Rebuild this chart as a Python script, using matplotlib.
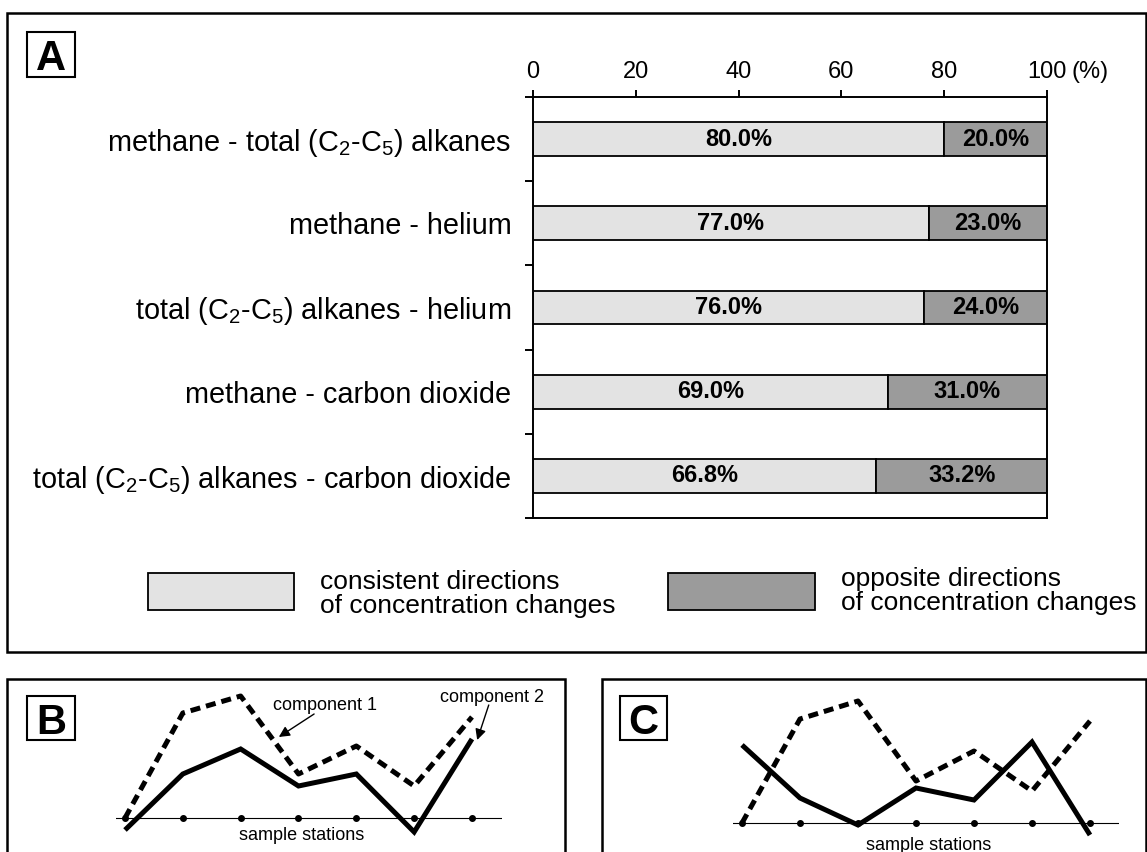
import numpy as np
import matplotlib
matplotlib.use('Agg')
import matplotlib.pyplot as plt
from matplotlib.patches import Rectangle

# ---------------- data ----------------
categories = [r'methane - total (C$_2$-C$_5$) alkanes',
              'methane - helium',
              r'total (C$_2$-C$_5$) alkanes - helium',
              'methane - carbon dioxide',
              r'total (C$_2$-C$_5$) alkanes - carbon dioxide']
consistent = [80.0, 77.0, 76.0, 69.0, 66.8]
opposite = [20.0, 23.0, 24.0, 31.0, 33.2]
xtick_values = [0, 20, 40, 60, 80, 100]
legend_labels = ['consistent directions\nof concentration changes',
                 'opposite directions\nof concentration changes']

stations = [0, 1, 2, 3, 4, 5, 6]
b_component1 = [0, 105, 122, 44, 72, 32, 101]
b_component2 = [-12, 44, 69, 32, 44, -14, 79]
c_component1 = [0, 104, 122, 42, 72, 32, 102]
c_component2 = [78, 25, -2, 35, 23, 81, -12]

# ---------------- style ----------------
plt.rcParams['font.family'] = ['Liberation Sans', 'DejaVu Sans']
plt.rcParams['mathtext.fontset'] = 'custom'
plt.rcParams['mathtext.rm'] = 'Liberation Sans'
plt.rcParams['mathtext.it'] = 'Liberation Sans:italic'
plt.rcParams['mathtext.bf'] = 'Liberation Sans:bold'
plt.rcParams['mathtext.default'] = 'regular'

LIGHT = '#e3e3e3'
DARK = '#9b9b9b'
W, H = 1147, 852
fig = plt.figure(figsize=(W / 100, H / 100), dpi=100)
fig.patch.set_facecolor('white')


def px_axes(x0, y0, x1, y1):
    return fig.add_axes([x0 / W, 1 - y1 / H, (x1 - x0) / W, (y1 - y0) / H])


def frame(x0, y0, x1, y1, lw=1.8, fc='none'):
    r = Rectangle((x0 / W, 1 - y1 / H), (x1 - x0) / W, (y1 - y0) / H,
                  transform=fig.transFigure, fill=(fc != 'none'),
                  facecolor=fc, edgecolor='k', lw=lw, clip_on=False)
    fig.add_artist(r)
    return r


def panel_label(x0, y0, x1, y1, letter):
    frame(x0, y0, x1, y1, lw=1.5)
    fig.text((x0 + x1) / 2 / W, 1 - (y0 + y1) / 2 / H, letter,
             ha='center', va='center_baseline', fontsize=30,
             fontweight='bold')


# ---------------- panel A ----------------
frame(7, 13, 1146, 652)
panel_label(27, 32, 75, 77, 'A')

ax = px_axes(533, 97, 1047, 518)
ypos = np.arange(len(categories))
ax.barh(ypos, consistent, height=0.4, color=LIGHT, edgecolor='k', lw=1.3)
ax.barh(ypos, opposite, left=consistent, height=0.4, color=DARK,
        edgecolor='k', lw=1.3)
for i, (c, o) in enumerate(zip(consistent, opposite)):
    ax.text(c / 2, i, f'{c:.1f}%', ha='center', va='center',
            fontsize=17, fontweight='bold')
    ax.text(c + o / 2, i, f'{o:.1f}%', ha='center', va='center',
            fontsize=17, fontweight='bold')
ax.set_xlim(0, 100)
ax.set_ylim(len(categories) - 0.5, -0.5)
ax.xaxis.tick_top()
ax.set_xticks(xtick_values)
ax.set_xticklabels([str(v) for v in xtick_values])
ax.tick_params(axis='x', which='major', direction='out', length=5,
               width=1.4, pad=5, labelsize=17)
ax.set_yticks(ypos)
ax.set_yticklabels(categories, fontsize=20.8)
ax.tick_params(axis='y', which='major', length=0, pad=15.5)
ax.set_yticks(np.arange(-0.5, len(categories), 1.0), minor=True)
ax.tick_params(axis='y', which='minor', direction='out', length=5.8,
               width=1.4)
for s in ax.spines.values():
    s.set_linewidth(1.4)
ax.annotate('(%)', xy=(100, 1), xycoords=('data', 'axes fraction'),
            xytext=(17.3, 10), textcoords='offset points',
            ha='left', va='bottom', fontsize=17)

# legend
frame(148, 573, 294, 610, lw=1.3, fc=LIGHT)
frame(668, 573, 815, 610, lw=1.3, fc=DARK)
fig.text(320 / W, 1 - 594 / H, legend_labels[0], ha='left', va='center',
         fontsize=19, linespacing=1.05)
fig.text(841 / W, 1 - 591 / H, legend_labels[1], ha='left', va='center',
         fontsize=19, linespacing=1.05)


# ---------------- panels B and C ----------------
def station_axes(x_first, spacing, line_y, x_left, x_right, y_top, y_bot):
    a = px_axes(x_left, y_top, x_right, y_bot)
    a.set_xlim((x_left - x_first) / spacing, (x_right - x_first) / spacing)
    a.set_ylim(line_y - y_bot, line_y - y_top)
    a.axis('off')
    a.axhline(0, color='k', lw=0.8)
    a.plot(stations, np.zeros(len(stations)), 'o', ms=4, color='k',
           clip_on=False)
    return a


def draw_components(a, comp1, comp2):
    a.plot(stations, comp1, color='k', lw=3.6, ls=(0, (2.0, 1.2)),
           dash_capstyle='butt', solid_joinstyle='miter', clip_on=False)
    a.plot(stations, comp2, color='k', lw=3.6, solid_joinstyle='miter',
           solid_capstyle='butt', clip_on=False)


# panel B
frame(7, 679, 565, 880)
panel_label(27, 696, 75, 740, 'B')
axb = station_axes(125, 57.83, 818, 116, 502, 680, 845)
draw_components(axb, b_component1, b_component2)
axb.text(3.05, -18, 'sample stations', ha='center', va='center', fontsize=13)
axb.text(3.46, 112, 'component 1', ha='center', va='center', fontsize=13)
axb.text(6.35, 121, 'component 2', ha='center', va='center', fontsize=13)
arrow = dict(arrowstyle='-|>', lw=1.0, color='k', mutation_scale=16,
             shrinkA=0, shrinkB=0)
axb.annotate('', xy=(2.66, 81), xytext=(3.27, 104), arrowprops=arrow,
             annotation_clip=False)
axb.annotate('', xy=(6.09, 78), xytext=(6.29, 113), arrowprops=arrow,
             annotation_clip=False)

# panel C
frame(602, 679, 1146, 880)
panel_label(620, 696, 667, 740, 'C')
axc = station_axes(742, 58.0, 823, 733, 1119, 680, 850)
draw_components(axc, c_component1, c_component2)
axc.text(3.22, -22, 'sample stations', ha='center', va='center', fontsize=13)

fig.savefig('out.png', dpi=100)
